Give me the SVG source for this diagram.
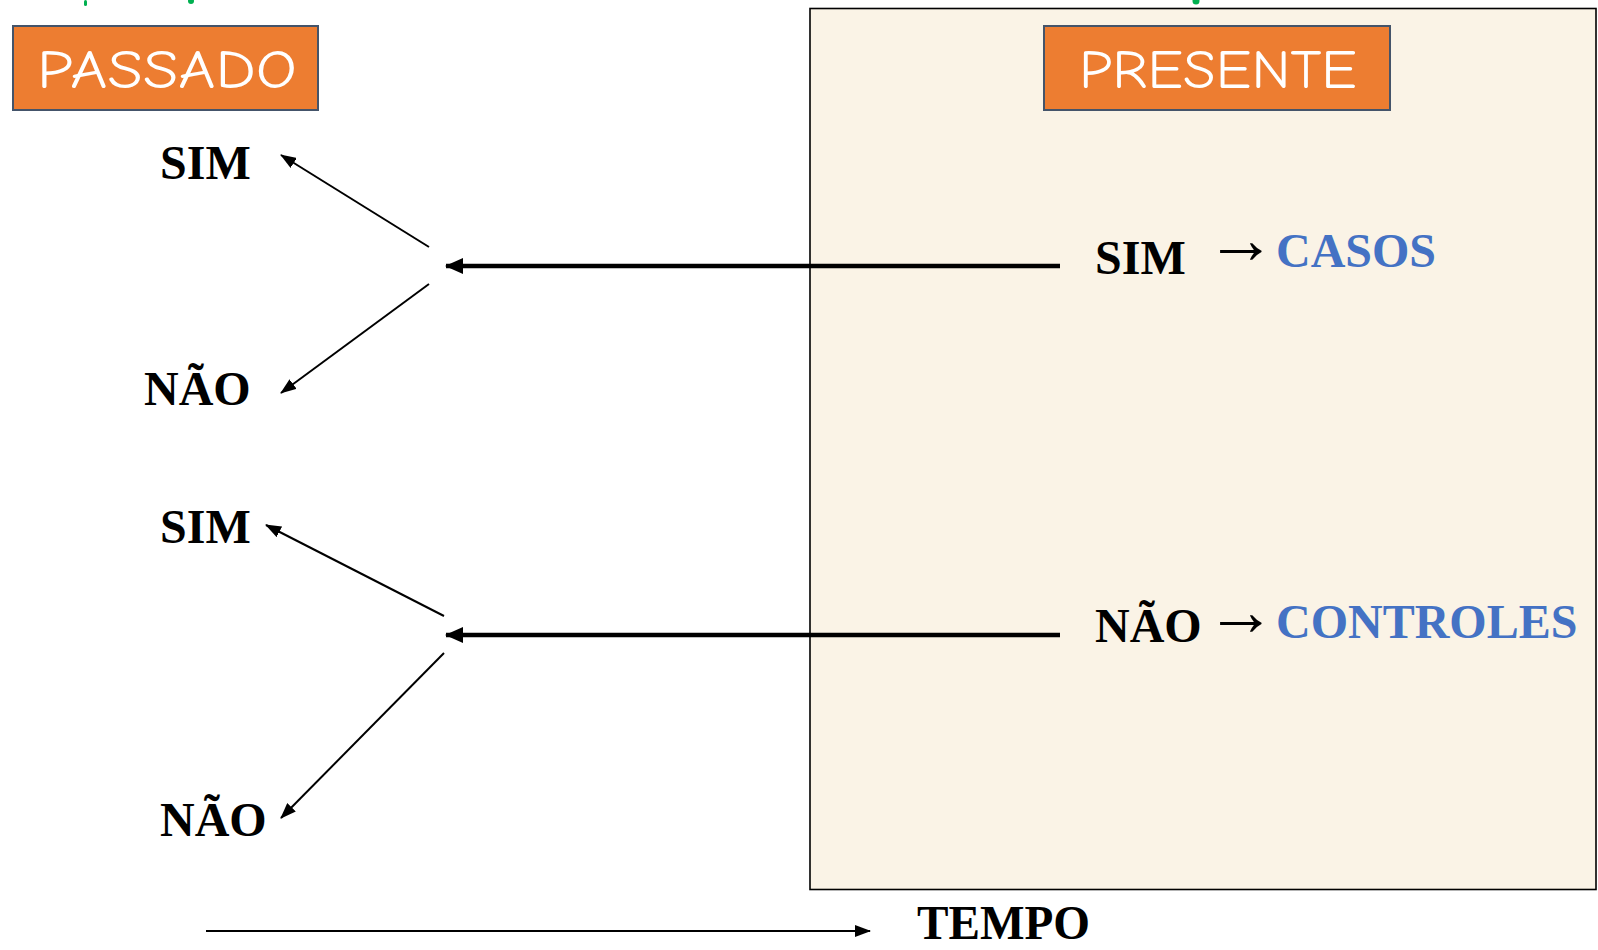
<svg xmlns="http://www.w3.org/2000/svg" width="1598" height="950" viewBox="0 0 1598 950">
<style>
.lbl{font-family:"Liberation Serif","Times New Roman",serif;font-weight:bold;font-size:48px;fill:#000}
.arr{font-family:"Liberation Serif","Times New Roman",serif;font-size:70px;fill:#000}
.blue{fill:#4472C4}
.tag{fill:#ED7D31;stroke:#44546A;stroke-width:2}
.tagt{font-family:"Comic Sans MS","Comic Neue","Open Sans",sans-serif;font-size:54px;fill:#fff}
.thin{stroke:#000;stroke-width:2;fill:none}
.thick{stroke:#000;stroke-width:4.5;fill:none}
</style>
<defs>
<marker id="ah" markerUnits="userSpaceOnUse" markerWidth="16" markerHeight="12" refX="15" refY="6" orient="auto">
<path d="M0,0 L16,6 L0,12 Z" fill="#000"/>
</marker>
<marker id="ahb" markerUnits="userSpaceOnUse" markerWidth="18" markerHeight="16" refX="17" refY="8" orient="auto">
<path d="M0,0 L18,8 L0,16 Z" fill="#000"/>
</marker>
</defs>
<rect width="1598" height="950" fill="#fff"/>
<g id="green-marks" fill="#00B050">
<rect x="84" y="0" width="3" height="6" rx="1.5"/>
<circle cx="191" cy="1" r="3"/>
<circle cx="1196" cy="1" r="3.5"/>
</g>
<g id="presente-area">
<rect x="810" y="8.5" width="786" height="881" fill="#FAF3E6" stroke="#000" stroke-width="1.6"/>
</g>
<g id="passado">
<rect class="tag" x="13" y="26" width="305" height="84"/>
<text class="tagt" x="37" y="88" textLength="260" lengthAdjust="spacingAndGlyphs">PASSADO</text>
</g>
<g id="presente">
<rect class="tag" x="1044" y="26" width="346" height="84"/>
<text class="tagt" x="1079" y="88" textLength="278" lengthAdjust="spacingAndGlyphs">PRESENTE</text>
</g>
<g id="connectors">
<line class="thick" x1="1060" y1="266" x2="446" y2="266" marker-end="url(#ahb)"/>
<line class="thick" x1="1060" y1="635" x2="446" y2="635" marker-end="url(#ahb)"/>
<line class="thin" x1="429" y1="247" x2="281" y2="155" marker-end="url(#ah)"/>
<line class="thin" x1="429" y1="284" x2="281" y2="393" marker-end="url(#ah)"/>
<line class="thin" x1="444" y1="616" x2="266" y2="525" marker-end="url(#ah)"/>
<line class="thin" x1="444" y1="653" x2="281" y2="818" marker-end="url(#ah)"/>
<line class="thin" x1="206" y1="931" x2="870" y2="931" marker-end="url(#ah)"/>
</g>
<g id="sim1"><text class="lbl" x="160" y="179">SIM</text></g>
<g id="nao1"><text class="lbl" x="144" y="405">NÃO</text></g>
<g id="sim2"><text class="lbl" x="160" y="543">SIM</text></g>
<g id="nao2"><text class="lbl" x="160" y="836">NÃO</text></g>
<g id="sim-casos">
<text class="lbl" x="1095" y="274">SIM</text>
<text class="arr" x="1206" y="263">→</text>
<text class="lbl blue" x="1276" y="267">CASOS</text>
</g>
<g id="nao-controles">
<text class="lbl" x="1095" y="642">NÃO</text>
<text class="arr" x="1206" y="635">→</text>
<text class="lbl blue" x="1276" y="638">CONTROLES</text>
</g>
<g id="tempo"><text class="lbl" x="917" y="939" textLength="173" lengthAdjust="spacingAndGlyphs">TEMPO</text></g>
</svg>
